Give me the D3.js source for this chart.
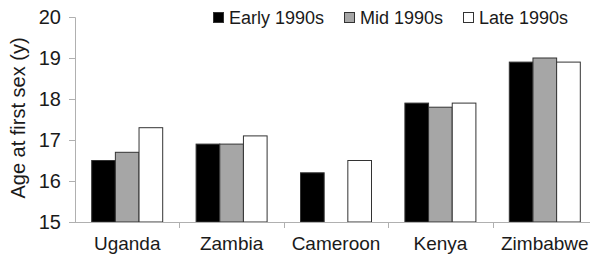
<!DOCTYPE html>
<html>
<head>
<meta charset="utf-8">
<script src="https://cdn.jsdelivr.net/npm/d3@7"></script>
<style>
  body { margin: 0; background: #fff; }
  text { font-family: "Liberation Sans", Arial, sans-serif; fill: #1a1a1a; }
</style>
</head>
<body>
<svg width="593" height="265"></svg>
<script>
var categories = ["Uganda", "Zambia", "Cameroon", "Kenya", "Zimbabwe"];
var seriesNames = ["Early 1990s", "Mid 1990s", "Late 1990s"];
var early = [16.5, 16.9, 16.2, 17.9, 18.9];
var mid = [16.7, 16.9, null, 17.8, 19.0];
var late = [17.3, 17.1, 16.5, 17.9, 18.9];
var yTicks = [15, 16, 17, 18, 19, 20];

var colors = ["#000000", "#a6a6a6", "#ffffff"];
var series = [early, mid, late];

var svg = d3.select("svg");

var x = d3.scaleBand().domain(categories).range([75, 597]);
var y = d3.scaleLinear().domain([15, 20]).range([222, 17]);
var inner = d3.scaleBand().domain(seriesNames).range([0, 71]);
var groupOffset = (x.bandwidth() - 71) / 2;

// y axis
var yAxis = svg.append("g")
    .attr("transform", "translate(75,0)")
    .call(d3.axisLeft(y).tickValues(yTicks).tickFormat(d3.format("d")).tickSize(6).tickPadding(8));
yAxis.select(".domain").attr("stroke", "#b0b0b0");
yAxis.selectAll(".tick line").attr("stroke", "#b0b0b0");
yAxis.selectAll(".tick text").style("font-size", "20px").attr("fill", "#1a1a1a");

svg.append("text")
    .attr("transform", "translate(25,118) rotate(-90)")
    .attr("text-anchor", "middle")
    .style("font-size", "20px")
    .text("Age at first sex (y)");

// bars
var data = [];
categories.forEach(function(c, i) {
    seriesNames.forEach(function(s, j) {
        if (series[j][i] != null) data.push({cat: c, name: s, value: series[j][i], color: colors[j]});
    });
});

svg.append("g").selectAll("rect")
    .data(data)
    .enter().append("rect")
    .attr("x", function(d) { return x(d.cat) + groupOffset + inner(d.name); })
    .attr("y", function(d) { return y(d.value); })
    .attr("width", inner.bandwidth())
    .attr("height", function(d) { return y(15) - y(d.value); })
    .attr("fill", function(d) { return d.color; })
    .attr("stroke", "#333")
    .attr("stroke-width", 1);

// x axis
svg.append("line")
    .attr("x1", 75).attr("x2", 590)
    .attr("y1", 222.5).attr("y2", 222.5)
    .attr("stroke", "#b0b0b0");

svg.append("g").selectAll("line")
    .data(categories.slice(1))
    .enter().append("line")
    .attr("x1", function(d) { return Math.round(x(d)) + 0.5; })
    .attr("x2", function(d) { return Math.round(x(d)) + 0.5; })
    .attr("y1", 222).attr("y2", 228)
    .attr("stroke", "#b0b0b0");

var xAxis = svg.append("g")
    .attr("transform", "translate(0,222)")
    .call(d3.axisBottom(x).tickSize(0).tickPadding(15));
xAxis.select(".domain").remove();
xAxis.selectAll(".tick text").style("font-size", "19px").attr("fill", "#1a1a1a");

// legend
var legendX = [213, 344, 463];
var legend = svg.append("g").selectAll("g")
    .data(seriesNames)
    .enter().append("g")
    .attr("transform", function(d, i) { return "translate(" + legendX[i] + ",12)"; });

legend.append("rect")
    .attr("x", 0.5).attr("y", 0.5)
    .attr("width", 10).attr("height", 10)
    .attr("fill", function(d, i) { return colors[i]; })
    .attr("stroke", "#333");

legend.append("text")
    .attr("x", 16)
    .attr("y", 12)
    .style("font-size", "18px")
    .text(function(d) { return d; });
</script>
</body>
</html>
